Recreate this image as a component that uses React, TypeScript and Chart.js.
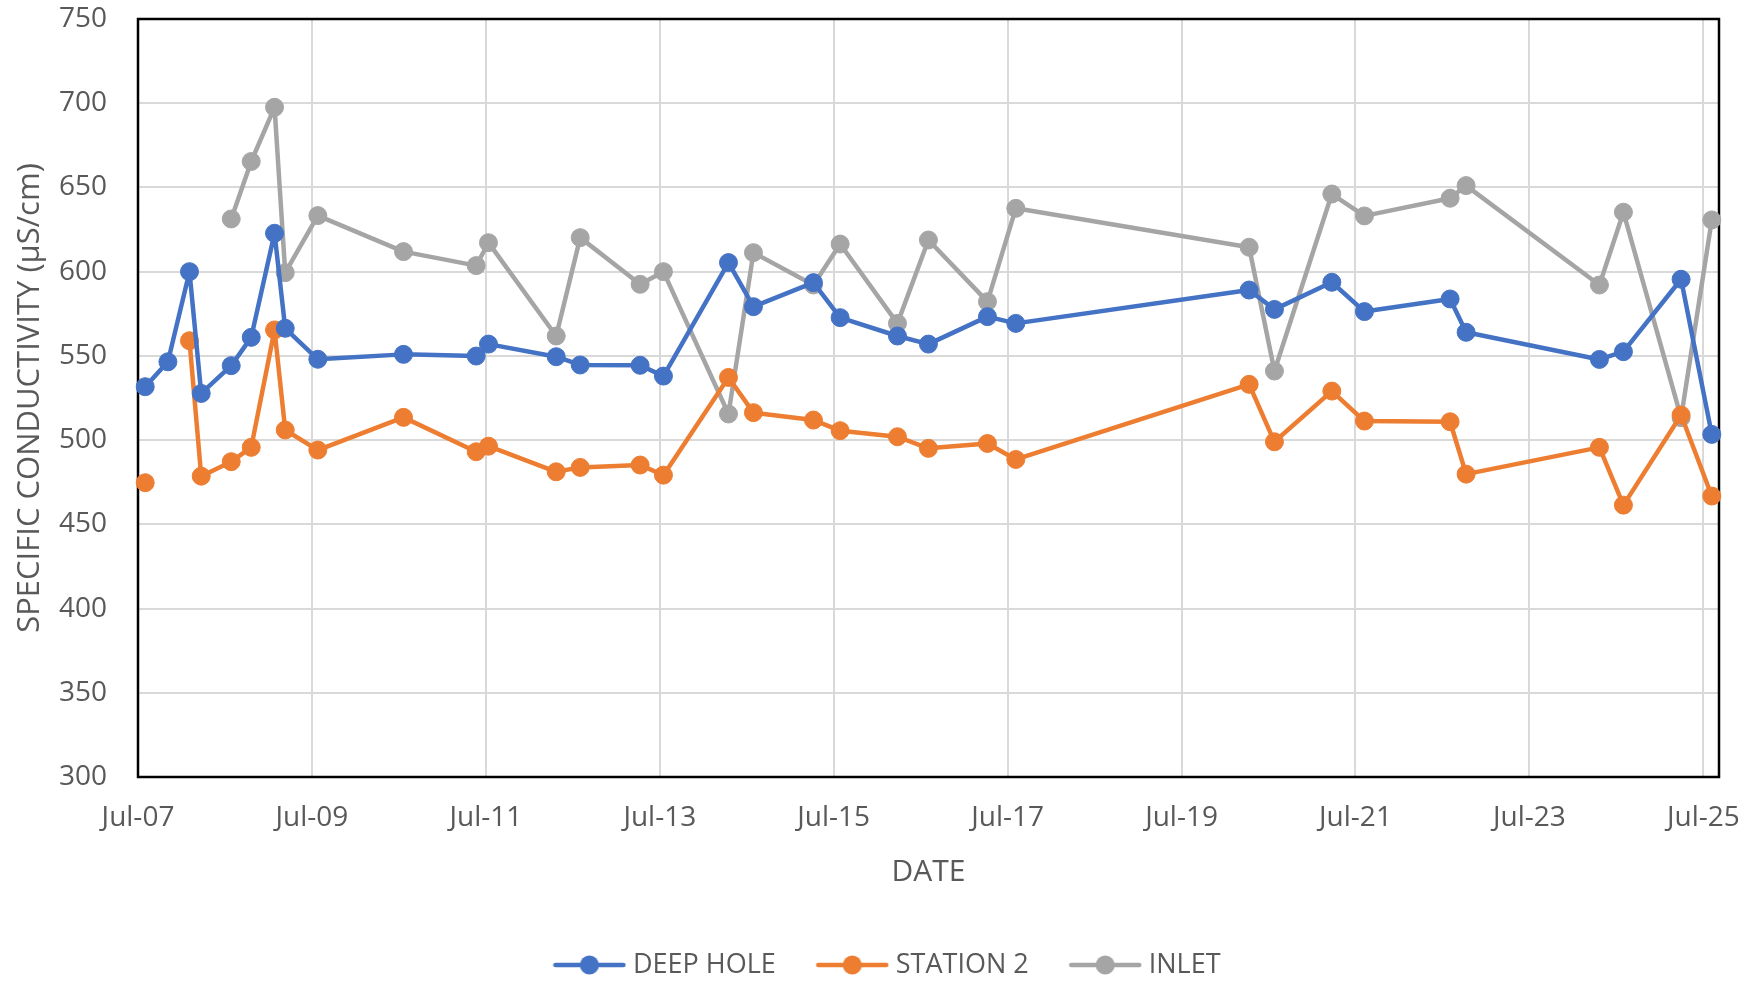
import React, { useEffect, useRef } from "react";
import { Chart, registerables } from "chart.js";

Chart.register(...registerables);

// Sampling dates as decimal years (Jul-07 = 2007.5)
const DATES = [
  2007.583, 2007.844, 2008.092, 2008.227, 2008.572, 2008.802, 2009.07, 2009.193, 2009.568,
  2010.553, 2011.389, 2011.53, 2012.309, 2012.585, 2013.274, 2013.542, 2014.29, 2014.577,
  2015.267, 2015.574, 2016.233, 2016.589, 2017.268, 2017.594, 2020.277, 2020.568, 2021.228,
  2021.603, 2022.588, 2022.772, 2024.305, 2024.581, 2025.244, 2025.597,
];

const DEEP_HOLE = [
  531.7, 546.5, 600, 527.7, 544.2, 561, 622.8, 566.4, 548,
  550.9, 549.9, 557, 549.5, 544.6, 544.4, 538, 605.4, 579.2,
  593.5, 572.7, 561.8, 557, 573.3, 569.3, 589.1, 577.6, 593.7,
  576.3, 583.8, 564, 547.9, 552.5, 595.5, 503.4,
];

const STATION_2 = [
  474.7, null, 559, 478.6, 487.2, 495.7, 565.4, 506, 494.1,
  513.5, 493.1, 496.4, 481.2, 483.8, 485.2, 479.2, 537.2, 516.3,
  511.9, 505.6, 502.0, 495.1, 498.0, 488.5, 533.1, 499.0, 529.1,
  511.3, 510.9, 479.8, 495.7, 461.4, 514.9, 466.8,
];

const INLET = [
  null, null, null, null, 631.3, 665.4, 697.6, 599.4, 633.3,
  611.9, 603.6, 617.2, 561.8, 620.2, 592.5, 600.0, 515.5, 611.3,
  592.1, 616.4, 569.3, 618.8, 582.2, 637.6, 614.5, 541.0, 646.1,
  633.1, 643.6, 651.1, 592.1, 635.3, 513.3, 630.7,
];

const SERIES_LABELS = ["DEEP HOLE", "STATION 2", "INLET"];
const SERIES_COLORS = ["#4472C4", "#ED7D31", "#A5A5A5"];

const X_TICK_VALUES = [2007.5, 2009.5, 2011.5, 2013.5, 2015.5, 2017.5, 2019.5, 2021.5, 2023.5, 2025.5];
const X_TICK_LABELS = ["Jul-07", "Jul-09", "Jul-11", "Jul-13", "Jul-15", "Jul-17", "Jul-19", "Jul-21", "Jul-23", "Jul-25"];
const X_MIN = 2007.5;
const X_MAX = 2025.68;

const Y_MIN = 300;
const Y_MAX = 750;
const Y_STEP = 50;

const X_TITLE = "DATE";
const Y_TITLE = "SPECIFIC CONDUCTIVITY (µS/cm)";

const FONT = "'Open Sans', sans-serif";
const TEXT_COLOR = "#595959";

function makeIcon(color: string): HTMLCanvasElement {
  const c = document.createElement("canvas");
  c.width = 74;
  c.height = 22;
  const ctx = c.getContext("2d")!;
  ctx.strokeStyle = color;
  ctx.lineWidth = 4.5;
  ctx.lineCap = "round";
  ctx.beginPath();
  ctx.moveTo(3, 11);
  ctx.lineTo(71, 11);
  ctx.stroke();
  ctx.fillStyle = color;
  ctx.beginPath();
  ctx.arc(37, 11, 9.5, 0, Math.PI * 2);
  ctx.fill();
  return c;
}

const plotBorder = {
  id: "plotBorder",
  beforeDatasetsDraw(chart: any) {
    const { ctx, chartArea } = chart;
    const { left, top, right, bottom } = chartArea;
    ctx.save();
    ctx.strokeStyle = "#000000";
    ctx.lineWidth = 2.5;
    ctx.strokeRect(left, top, right - left, bottom - top);
    ctx.restore();
  },
};

export default function App() {
  const canvasRef = useRef<HTMLCanvasElement | null>(null);

  useEffect(() => {
    if (!canvasRef.current) return;
    const icons = SERIES_COLORS.map(makeIcon);
    const seriesValues = [DEEP_HOLE, STATION_2, INLET];

    const datasets = seriesValues.map((vals, i) => ({
      label: SERIES_LABELS[i],
      data: DATES.map((x, j) => ({ x, y: vals[j] })),
      borderColor: SERIES_COLORS[i],
      backgroundColor: SERIES_COLORS[i],
      pointBackgroundColor: SERIES_COLORS[i],
      pointBorderColor: SERIES_COLORS[i],
      borderWidth: 4.5,
      pointRadius: 9,
      pointBorderWidth: 1,
      pointHoverRadius: 9,
      borderJoinStyle: "round" as const,
      borderCapStyle: "round" as const,
      tension: 0,
      spanGaps: false,
      clip: false as const,
    }));

    const chart = new Chart(canvasRef.current, {
      type: "line",
      data: { datasets },
      plugins: [plotBorder],
      options: {
        animation: false,
        responsive: true,
        maintainAspectRatio: false,
        parsing: false as any,
        layout: { padding: { left: 17, right: 0, top: 19, bottom: 0 } },
        plugins: {
          tooltip: { enabled: false },
          legend: {
            position: "bottom",
            maxHeight: 77,
            labels: {
              usePointStyle: true,
              pointStyleWidth: 60,
              padding: 46.5,
              color: TEXT_COLOR,
              font: { family: FONT, size: 27 },
              generateLabels: (ch: any) =>
                ch.data.datasets.map((ds: any, i: number) => ({
                  text: ds.label,
                  pointStyle: icons[i],
                  fillStyle: ds.borderColor,
                  strokeStyle: ds.borderColor,
                  lineWidth: 0,
                  hidden: false,
                  datasetIndex: i,
                  fontColor: TEXT_COLOR,
                })),
            },
          },
        },
        scales: {
          x: {
            type: "linear",
            min: X_MIN,
            max: X_MAX,
            afterBuildTicks: (scale: any) => {
              scale.ticks = X_TICK_VALUES.map((v) => ({ value: v }));
            },
            afterFit: (scale: any) => {
              scale.height = 128;
              scale.paddingLeft = 0;
              scale.paddingRight = 44;
            },
            ticks: {
              autoSkip: false,
              maxRotation: 0,
              padding: 24,
              color: TEXT_COLOR,
              font: { family: FONT, size: 28 },
              callback: (value: any) => {
                const idx = X_TICK_VALUES.findIndex((v) => Math.abs(v - Number(value)) < 1e-6);
                return idx >= 0 ? X_TICK_LABELS[idx] : "";
              },
            },
            grid: { color: "#D9D9D9", lineWidth: 2, drawTicks: false },
            border: { display: false },
            title: {
              display: true,
              text: X_TITLE,
              color: TEXT_COLOR,
              font: { family: FONT, size: 30 },
              padding: { top: 0, bottom: 15 },
            },
          },
          y: {
            type: "linear",
            min: Y_MIN,
            max: Y_MAX,
            afterFit: (scale: any) => {
              scale.width = 121;
              scale.paddingTop = 0;
              scale.paddingBottom = 0;
            },
            ticks: {
              stepSize: Y_STEP,
              padding: 31,
              color: TEXT_COLOR,
              font: { family: FONT, size: 28 },
            },
            grid: { color: "#D9D9D9", lineWidth: 2, drawTicks: false },
            border: { display: false },
            title: {
              display: true,
              text: Y_TITLE,
              color: TEXT_COLOR,
              font: { family: FONT, size: 31 },
              padding: { top: -5.6, bottom: 0 },
            },
          },
        },
      },
    });

    return () => chart.destroy();
  }, []);

  return (
    <div style={{ position: "absolute", left: 0, top: 0, width: 1763, height: 982, background: "#fff" }}>
      <canvas ref={canvasRef} />
    </div>
  );
}
